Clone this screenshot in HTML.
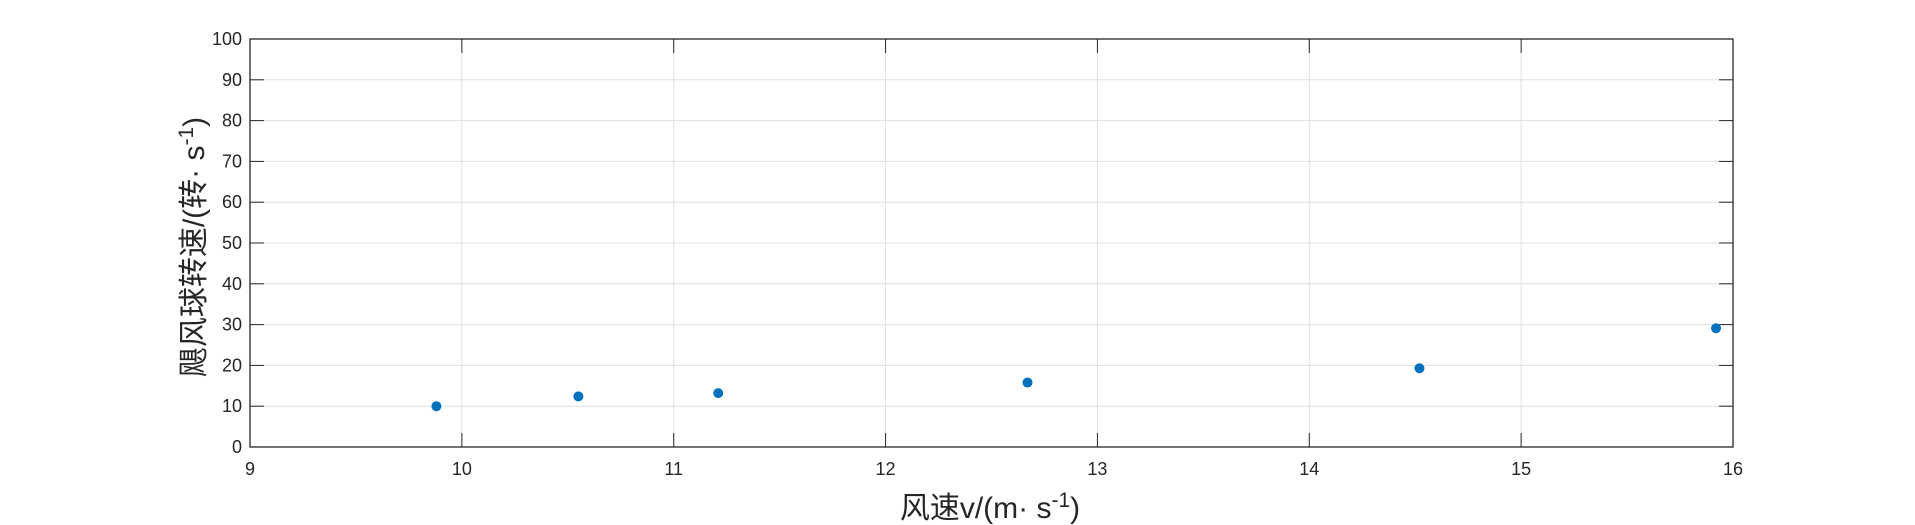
<!DOCTYPE html>
<html><head><meta charset="utf-8"><style>
html,body{margin:0;padding:0;background:#fff;}
svg{display:block;font-family:"Liberation Sans","Noto Sans CJK SC",sans-serif;}
</style></head><body>
<svg id="chart" width="1915" height="525" xmlns="http://www.w3.org/2000/svg">
<rect width="1915" height="525" fill="#fff"/>
<g id="grid"></g>
<g id="axes"></g>
<g id="points"></g>
<text x="990" y="518" font-size="30" fill="#262626" text-anchor="middle">风速v/(m· s<tspan dy="-11" font-size="21">-1</tspan><tspan dy="11">)</tspan></text>
<text transform="translate(204,247) rotate(-90)" font-size="30" fill="#262626" text-anchor="middle">飓风球转速/(转· s<tspan dy="-11" font-size="21">-1</tspan><tspan dy="11">)</tspan></text>
</svg>
<script>
const xTicks = [9,10,11,12,13,14,15,16];
const yTicks = [0,10,20,30,40,50,60,70,80,90,100];
const windSpeed = [9.88, 10.55, 11.21, 12.67, 14.52, 15.92];
const rotSpeed = [10.0, 12.4, 13.2, 15.8, 19.3, 29.1];
const L=250,R=1733,T=39,B=447;
function sx(v){return L+(v-9)/(16-9)*(R-L);}
function sy(v){return B-(v-0)/100*(B-T);}
const NS="http://www.w3.org/2000/svg";
function mk(tag,attrs,parent){const e=document.createElementNS(NS,tag);for(const k in attrs)e.setAttribute(k,attrs[k]);parent.appendChild(e);return e;}
const grid=document.getElementById('grid'),axes=document.getElementById('axes'),pts=document.getElementById('points');
xTicks.forEach(t=>{
  const x=sx(t);
  const g=mk('line',{x1:x,x2:x,y1:T,y2:B,stroke:'#dfdfdf','stroke-width':1},grid);
  
  
  const a=mk('line',{x1:x,x2:x,y1:B,y2:B-14,stroke:'#262626','stroke-width':1},axes);
  
  
  const b=mk('line',{x1:x,x2:x,y1:T,y2:T+14,stroke:'#262626','stroke-width':1},axes);
  
  
  const tx=mk('text',{x:x,y:475,'font-size':18,fill:'#262626','text-anchor':'middle'},axes);
  tx.textContent=t;
  
  
});
yTicks.forEach(t=>{
  const y=sy(t);
  const g=mk('line',{x1:L,x2:R,y1:y,y2:y,stroke:'#dfdfdf','stroke-width':1},grid);
  
  
  const a=mk('line',{x1:L,x2:L+14,y1:y,y2:y,stroke:'#262626','stroke-width':1},axes);
  
  
  const b=mk('line',{x1:R,x2:R-14,y1:y,y2:y,stroke:'#262626','stroke-width':1},axes);
  
  
  const tx=mk('text',{x:242,y:y+6,'font-size':18,fill:'#262626','text-anchor':'end'},axes);
  tx.textContent=t;
  
  
});
const box=mk('rect',{x:L,y:T,width:R-L,height:B-T,fill:'none',stroke:'#262626','stroke-width':1.3},axes);


windSpeed.forEach((v,i)=>{
  const c=mk('circle',{cx:sx(v),cy:sy(rotSpeed[i]),r:5,fill:'#0072bd'},pts);
  
  
});
</script>
</body></html>
